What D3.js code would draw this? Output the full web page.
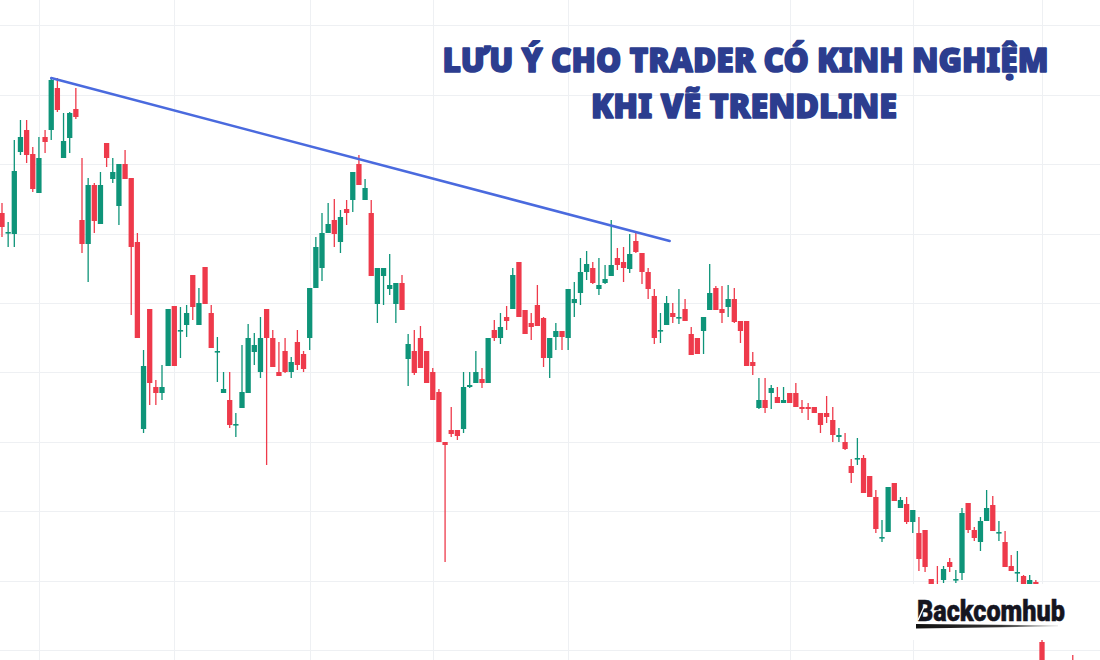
<!DOCTYPE html>
<html><head><meta charset="utf-8">
<script src="https://cdn.jsdelivr.net/npm/d3@7"></script>
<style>html,body{margin:0;padding:0;background:#fff;overflow:hidden} svg{display:block}</style>
</head><body><svg id="c" width="1100" height="660"></svg>
<script>
// ---- data (price units) ----
const openP = [78.7,76.7,76.6,84.8,87.0,84.6,80.7,86.3,87.0,91.2,84.2,86.2,89.1,78.0,75.6,81.5,77.6,85.7,82.1,79.4,
83.6,82.2,75.8,57.1,69.1,61.3,60.7,63.4,69.4,66.9,67.5,72.5,67.5,73.3,68.7,64.8,60.7,60.0,57.5,59.2,
60.7,64.8,62.8,69.1,66.2,62.8,64.9,62.8,65.8,64.6,66.2,71.2,73.2,76.7,78.0,75.8,79.1,80.0,83.6,80.0,
78.7,69.6,72.4,71.1,69.6,71.7,64.1,64.9,66.2,64.9,62.8,60.8,55.8,57.0,57.0,57.1,61.3,61.7,62.1,61.7,
67.0,66.2,68.3,69.1,73.8,69.0,67.7,69.5,68.2,64.2,66.3,66.9,66.2,69.7,70.7,72.8,73.2,71.1,71.7,72.4,
74.2,73.8,73.1,75.9,74.7,72.8,70.4,66.9,67.5,68.7,68.2,69.1,66.6,66.2,66.9,69.0,71.2,69.1,69.3,70.1,
67.9,67.9,63.8,59.2,60.0,60.7,60.3,59.7,60.7,60.7,59.3,59.3,59.3,58.7,58.7,58.0,56.3,55.8,53.4,54.1,
54.2,52.4,50.3,46.2,46.8,51.7,49.2,49.6,47.8,46.7,47.0,42.1,41.5,42.0,43.8,42.0,42.7,49.7,47.0,45.8,
47.9,49.5,46.7,45.8,43.4,42.7,42.4,41.6,41.8,35.8,null,null,null,null,33.8];
const highP = [79.7,77.8,86.0,88.0,88.0,85.3,86.3,87.0,92.2,92.2,88.7,88.8,91.2,84.2,82.2,81.7,82.8,85.7,84.2,83.6,
85.0,82.2,76.7,65.0,69.1,62.0,63.5,69.1,69.4,69.3,69.5,72.5,71.2,73.3,69.5,66.3,62.8,62.8,58.7,65.5,
67.6,66.7,68.3,69.1,67.0,65.8,66.2,64.3,67.0,64.9,71.2,76.3,78.7,79.7,80.1,79.0,80.0,82.8,84.5,82.1,
80.0,73.2,73.2,74.6,71.7,72.5,66.6,67.0,67.4,64.9,63.2,61.1,55.8,59.3,57.0,62.8,62.8,64.9,63.2,66.2,
68.0,68.7,69.4,73.2,73.8,69.0,68.7,71.5,68.3,66.2,67.7,66.9,71.1,71.8,74.2,74.9,73.8,74.2,73.5,78.0,
75.2,75.3,76.6,76.9,74.7,73.2,71.1,68.7,70.4,69.7,71.1,70.1,67.3,66.2,68.3,73.6,71.4,71.4,71.5,71.2,
67.9,67.9,64.8,62.2,62.2,61.5,61.3,61.3,60.7,61.7,60.0,59.7,59.3,58.7,60.4,59.3,57.2,56.7,54.1,56.2,
54.5,52.4,51.0,48.0,51.3,51.7,50.3,50.3,49.0,48.3,47.0,42.1,43.4,43.4,44.2,43.0,49.2,49.7,47.3,48.3,
51.0,50.4,47.9,46.9,44.5,44.9,42.5,42.5,42.0,36.2,null,null,null,null,34.5];
const lowP = [76.3,75.3,75.3,84.5,83.7,80.8,80.7,84.7,86.0,88.8,84.2,84.7,88.1,74.7,71.8,76.7,77.6,83.3,81.7,77.5,
82.1,68.5,66.2,56.7,59.5,59.5,60.0,63.4,63.4,64.2,66.3,68.0,67.5,69.6,65.2,61.8,60.7,57.2,56.3,59.2,
60.7,63.5,62.2,53.5,63.3,62.4,62.7,62.2,63.0,62.8,65.0,71.2,71.9,76.7,75.3,74.7,77.5,78.8,81.5,80.0,
72.4,67.7,69.5,70.5,67.7,69.0,61.4,62.5,63.2,61.7,60.0,55.8,43.8,56.3,56.0,56.7,61.2,61.7,61.2,61.7,
65.9,65.6,67.0,69.1,68.3,66.6,66.0,67.4,63.3,62.2,65.0,65.0,65.0,68.3,69.5,72.0,71.6,70.5,71.6,72.4,
73.0,71.8,72.7,74.7,71.6,70.1,65.6,65.7,67.5,67.7,67.6,67.9,64.5,64.6,64.6,69.0,69.0,67.7,68.3,67.7,
65.7,63.4,62.5,59.1,58.7,59.1,59.7,59.7,59.7,59.3,58.7,58.0,58.7,56.7,57.7,55.8,55.8,55.0,51.7,53.5,
50.7,50.3,46.7,45.8,46.8,49.9,49.2,47.6,46.7,42.9,42.8,40.5,39.5,41.7,42.8,41.7,42.0,46.7,45.9,44.9,
47.9,46.9,45.9,43.3,42.9,41.8,41.0,41.2,40.6,31.5,null,null,null,null,32.0];
const closeP = [77.3,76.8,82.9,86.3,84.5,81.1,84.2,85.8,92.0,89.0,85.9,88.7,88.3,75.6,81.5,77.9,81.5,84.2,82.8,83.6,
82.1,75.3,66.2,63.4,61.7,60.7,61.3,69.1,63.4,67.0,68.7,69.3,69.7,69.6,65.2,64.9,61.1,57.5,57.6,60.8,
66.2,65.5,66.2,66.2,63.3,62.4,62.8,63.8,63.5,63.1,71.2,75.3,76.7,77.6,76.6,78.3,78.7,82.8,81.5,81.2,
72.4,73.2,73.2,71.5,71.7,69.0,65.6,62.7,63.2,61.7,60.0,55.8,55.5,56.6,56.4,61.3,61.5,62.8,61.7,66.2,
66.2,67.3,67.9,72.5,68.3,66.6,67.3,67.4,64.2,66.2,66.9,66.3,71.1,70.1,72.8,73.6,71.7,71.5,72.1,73.5,
73.5,73.2,74.6,74.8,72.8,71.1,66.2,67.0,69.7,68.3,68.3,67.9,64.5,64.6,68.3,70.7,69.0,68.7,70.1,67.8,
66.9,63.4,63.4,60.0,59.2,61.2,59.7,60.0,59.7,59.3,59.1,59.1,58.7,57.5,58.3,56.5,56.5,55.1,52.7,54.2,
50.7,50.3,47.1,46.3,51.3,49.9,50.0,47.8,49.0,44.1,43.3,41.0,40.0,43.1,43.3,42.1,48.7,47.0,46.2,47.9,
49.2,46.9,46.8,43.3,42.9,42.8,41.5,42.0,41.0,32.0,null,null,null,null,32.5];
const gridPrices = [97.5, 90.5, 83.6, 76.6, 69.7, 62.8, 55.8, 48.9, 41.9, 35.0];
const gridBars = [6, 28, 50, 70, 92, 128, 148, 169];
const trendBars = [8, 108.5];
const trendPrices = [92.2, 75.9];
const titleLines = ["LƯU Ý CHO TRADER CÓ KINH NGHIỆM", "KHI VẼ TRENDLINE"];
const brand = "Backcomhub";

// ---- drawing ----
const W = 1100, H = 660;
const svg = d3.select("#c");
const x = d3.scaleLinear().domain([0, 169]).range([2, 1042]);
const y = d3.scaleLinear().domain([34, 100]).range([660, 0]);
const step = x(1) - x(0);
const bw = step * 0.86;
const UP = "#0e9479", DOWN = "#ee3a4b";

svg.append("rect").attr("width", W).attr("height", H).attr("fill", "#ffffff");

const grid = svg.append("g").attr("stroke", "#eef0f3").attr("stroke-width", 1);
grid.selectAll("line.h").data(gridPrices).join("line").attr("class", "h")
  .attr("x1", 0).attr("x2", W).attr("y1", d => Math.round(y(d)) + 0.5).attr("y2", d => Math.round(y(d)) + 0.5);
grid.selectAll("line.v").data(gridBars).join("line").attr("class", "v")
  .attr("y1", 0).attr("y2", H).attr("x1", d => Math.round(x(d)) + 0.5).attr("x2", d => Math.round(x(d)) + 0.5);

const bars = openP.map((o, i) => ({ i, o, h: highP[i], l: lowP[i], c: closeP[i] })).filter(d => d.o !== null);
const g = svg.append("g");
const cg = g.selectAll("g").data(bars).join("g")
  .attr("fill", d => d.c >= d.o ? UP : DOWN).attr("stroke", d => d.c >= d.o ? UP : DOWN);
cg.append("line").attr("x1", d => x(d.i)).attr("x2", d => x(d.i))
  .attr("y1", d => y(d.h)).attr("y2", d => y(d.l)).attr("stroke-width", 1.3);
cg.append("rect").attr("stroke", "none")
  .attr("x", d => x(d.i) - bw / 2).attr("width", bw)
  .attr("y", d => y(Math.max(d.o, d.c)))
  .attr("height", d => Math.max(1.6, Math.abs(y(d.o) - y(d.c))));

// trendline
const tl = d3.line().x(d => x(d[0])).y(d => y(d[1]));
svg.append("path").datum(trendBars.map((b, k) => [b, trendPrices[k]]))
  .attr("d", tl).attr("fill", "none").attr("stroke", "#4a6ade").attr("stroke-width", 2.5)
  .attr("stroke-linecap", "round");

// title
const title = svg.append("g").attr("fill", "#2c3d8f").attr("stroke", "#2c3d8f")
  .attr("stroke-width", 1.6).attr("stroke-linejoin", "round")
  .attr("font-family", "'Noto Sans', 'Open Sans', sans-serif").attr("font-weight", 900)
  .attr("font-size", 34).attr("text-anchor", "middle");
const tpos = [{ cx: 745.5, by: 72, len: 606 }, { cx: 744, by: 118, len: 306 }];
title.selectAll("text").data(titleLines).join("text")
  .attr("x", (d, k) => tpos[k].cx).attr("y", (d, k) => tpos[k].by)
  .attr("textLength", (d, k) => tpos[k].len).attr("lengthAdjust", "spacingAndGlyphs")
  .text(d => d);

// brand box
svg.append("rect").attr("x", 890).attr("y", 584).attr("width", 210).attr("height", 56).attr("fill", "#ffffff");
const defs = svg.append("defs");
const lg = defs.append("linearGradient").attr("id", "sw").attr("x1", "0").attr("x2", "1");
lg.append("stop").attr("offset", "0").attr("stop-color", "#111");
lg.append("stop").attr("offset", "0.6").attr("stop-color", "#333");
lg.append("stop").attr("offset", "1").attr("stop-color", "#ddd");
svg.append("text").attr("x", 917).attr("y", 621).attr("font-family", "Roboto, 'Noto Sans', sans-serif")
  .attr("font-weight", 900).attr("font-size", 29).attr("fill", "#15151f")
  .attr("stroke", "#15151f").attr("stroke-width", 0.5)
  .attr("textLength", 148).attr("lengthAdjust", "spacingAndGlyphs").text(brand);
svg.append("line").attr("x1", 918).attr("y1", 620).attr("x2", 924).attr("y2", 607)
  .attr("stroke", "#fff").attr("stroke-width", 1.4);
svg.append("path").attr("d", "M916,624 L1058,625.4 L1058,626.2 L916,628.6 Z").attr("fill", "url(#sw)");
</script>
</body></html>
